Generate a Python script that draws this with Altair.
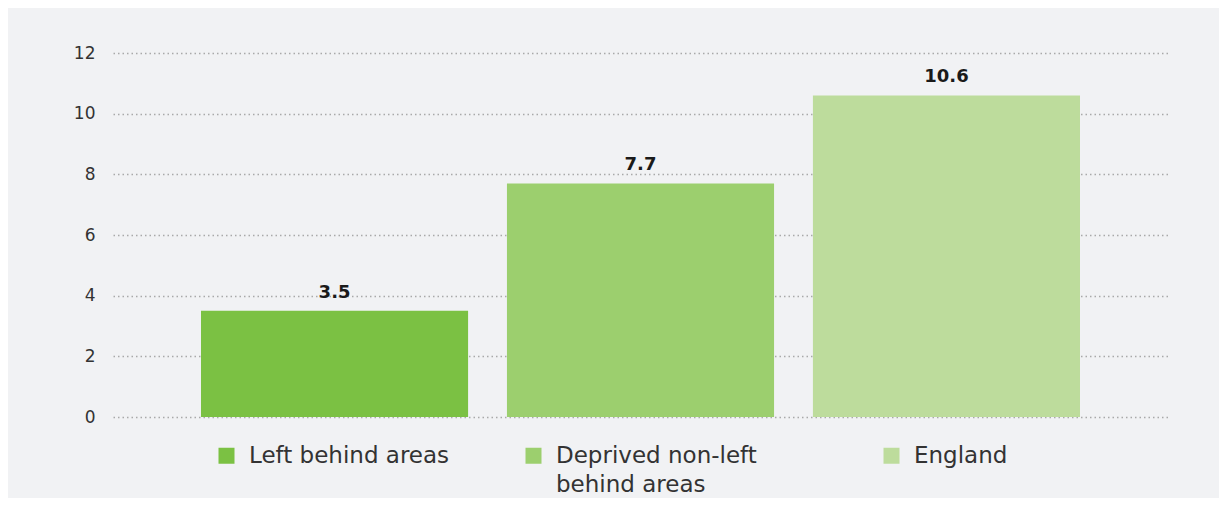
import altair as alt
import pandas as pd

categories = ["Left behind areas", "Deprived non-left behind areas", "England"]
values = [3.5, 7.7, 10.6]
colors = ["#7bc143", "#9ccf6e", "#bddc9c"]
y_ticks = [0, 2, 4, 6, 8, 10, 12]

df = pd.DataFrame({"area": categories, "value": values})

FONT = "DejaVu Sans"
PAD = " " * 7 + "\u200b"

x_enc = alt.X(
    "area:N",
    sort=categories,
    axis=None,
    scale=alt.Scale(paddingInner=0.127, paddingOuter=0.2876),
)
y_enc = alt.Y(
    "value:Q",
    scale=alt.Scale(domain=[0, 12], nice=False),
    axis=alt.Axis(
        values=y_ticks,
        title=None,
        domain=False,
        ticks=False,
        labelPadding=18,
        labelFontSize=17,
        labelColor="#333333",
        labelFont=FONT,
        grid=True,
        gridDash=[1.5, 3],
        gridColor="#a9a9a9",
        gridWidth=1.5,
    ),
)

label_expr = (
    "datum.label == 'Deprived non-left behind areas' ? ['Deprived non-left" + PAD + "', 'behind areas'] : "
    "[datum.label, ' ']"
)

bars = alt.Chart(df).mark_bar().encode(
    x=x_enc,
    y=y_enc,
    color=alt.Color(
        "area:N",
        sort=categories,
        scale=alt.Scale(domain=categories, range=colors),
        legend=alt.Legend(
            title=None,
            orient="none",
            legendX=102,
            legendY=391,
            direction="horizontal",
            columns=3,
            columnPadding=72,
            symbolType="square",
            symbolSize=256,
            symbolStrokeWidth=0,
            labelFontSize=23,
            labelFont=FONT,
            labelColor="#333333",
            labelOffset=11,
            labelLimit=500,
            padding=0,
            labelExpr=label_expr,
        ),
    ),
)

labels = alt.Chart(df).mark_text(
    baseline="alphabetic", dy=-13, fontSize=18, fontWeight="bold", font=FONT, color="#1a1a1a"
).encode(
    x=alt.X("area:N", sort=categories),
    y="value:Q",
    text=alt.Text("value:Q", format=".1f"),
)

chart = (
    alt.layer(bars, labels)
    .properties(
        width=1055,
        height=364,
        background="#f1f2f4",
        padding={"left": 105, "top": 45, "right": 51, "bottom": 81},
        autosize=alt.AutoSizeParams(type="none"),
    )
    .configure(style={"guide-label": {"lineHeight": 29}})
    .configure_view(strokeWidth=0)
)

chart.save("out.html", embed_options={"renderer": "svg", "actions": False})
